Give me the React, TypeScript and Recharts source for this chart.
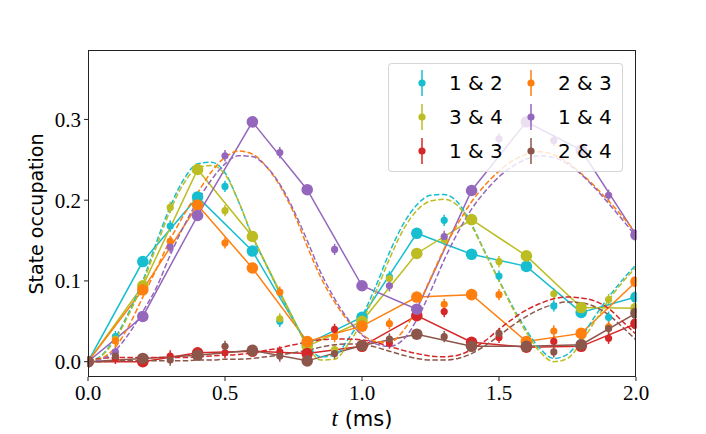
import React from "react";
import { ComposedChart, Line, Scatter, XAxis, YAxis, ErrorBar } from "recharts";

// theory curves, sampled every 0.05 ms
const T_FINE = [
  0, 0.05, 0.1, 0.15, 0.2, 0.25, 0.3, 0.35, 0.4, 0.45, 0.5, 0.55, 0.6, 0.65, 0.7, 0.75, 0.8, 0.85, 0.9, 0.95, 1.0,
  1.05, 1.1, 1.15, 1.2, 1.25, 1.3, 1.35, 1.4, 1.45, 1.5, 1.55, 1.6, 1.65, 1.7, 1.75, 1.8, 1.85, 1.9, 1.95, 2.0,
];
const THEORY_12 = [
  0, 0.008, 0.03, 0.062, 0.1, 0.148, 0.192, 0.226, 0.245, 0.247, 0.234, 0.198, 0.155, 0.12, 0.085, 0.052, 0.022, 0.006,
  0.008, 0.028, 0.056, 0.093, 0.135, 0.17, 0.194, 0.206, 0.207, 0.197, 0.17, 0.135, 0.101, 0.068, 0.039, 0.016, 0.004,
  0.009, 0.03, 0.056, 0.08, 0.101, 0.12,
];
const THEORY_34 = [
  0, 0.007, 0.028, 0.059, 0.097, 0.143, 0.187, 0.221, 0.24, 0.243, 0.232, 0.198, 0.156, 0.12, 0.085, 0.051, 0.02, 0.002,
  0.003, 0.022, 0.05, 0.086, 0.127, 0.163, 0.187, 0.199, 0.201, 0.193, 0.168, 0.134, 0.1, 0.066, 0.036, 0.012, 0.0,
  0.004, 0.024, 0.05, 0.076, 0.098, 0.117,
];
const THEORY_13 = [
  0.002, 0.004, 0.005, 0.005, 0.005, 0.005, 0.005, 0.005, 0.006, 0.007, 0.008, 0.009, 0.011, 0.014, 0.017, 0.021, 0.024,
  0.027, 0.028, 0.028, 0.027, 0.024, 0.019, 0.014, 0.01, 0.007, 0.006, 0.008, 0.015, 0.026, 0.04, 0.053, 0.064, 0.072,
  0.078, 0.08, 0.079, 0.075, 0.066, 0.05, 0.034,
];
const THEORY_23 = [
  0, 0.004, 0.018, 0.045, 0.08, 0.115, 0.151, 0.182, 0.209, 0.235, 0.253, 0.261, 0.257, 0.242, 0.218, 0.185, 0.143,
  0.104, 0.074, 0.05, 0.034, 0.025, 0.024, 0.038, 0.066, 0.103, 0.14, 0.171, 0.198, 0.219, 0.236, 0.249, 0.257, 0.26,
  0.256, 0.247, 0.233, 0.217, 0.199, 0.18, 0.159,
];
const THEORY_14 = [
  0, 0.003, 0.014, 0.035, 0.062, 0.092, 0.132, 0.168, 0.199, 0.225, 0.245, 0.255, 0.254, 0.242, 0.22, 0.188, 0.15, 0.11,
  0.078, 0.052, 0.033, 0.022, 0.019, 0.027, 0.052, 0.087, 0.126, 0.16, 0.189, 0.211, 0.229, 0.242, 0.251, 0.255, 0.253,
  0.245, 0.232, 0.215, 0.196, 0.176, 0.155,
];
const THEORY_24 = [
  0, 0.0, 0.001, 0.001, 0.001, 0.001, 0.001, 0.001, 0.002, 0.002, 0.003, 0.003, 0.004, 0.006, 0.008, 0.011, 0.014, 0.018,
  0.021, 0.022, 0.021, 0.018, 0.013, 0.008, 0.004, 0.002, 0.002, 0.004, 0.01, 0.02, 0.032, 0.045, 0.056, 0.065, 0.071,
  0.074, 0.073, 0.068, 0.058, 0.043, 0.027,
];

// measurements, main set (every 0.2 ms)
const T_MAIN = [0, 0.2, 0.4, 0.6, 0.8, 1.0, 1.2, 1.4, 1.6, 1.8, 2.0];
const MAIN_12 = [0, 0.124, 0.204, 0.137, 0.022, 0.055, 0.159, 0.133, 0.118, 0.061, 0.08];
const MAIN_34 = [0, 0.094, 0.238, 0.155, 0.019, 0.05, 0.134, 0.176, 0.131, 0.067, 0.066];
const MAIN_13 = [0, 0.0, 0.011, 0.013, 0.01, 0.019, 0.057, 0.024, 0.018, 0.019, 0.047];
const MAIN_23 = [0, 0.089, 0.194, 0.116, 0.025, 0.044, 0.08, 0.083, 0.025, 0.035, 0.099];
const MAIN_14 = [0, 0.056, 0.181, 0.297, 0.213, 0.094, 0.065, 0.212, 0.297, 0.262, 0.157];
const MAIN_24 = [0, 0.004, 0.008, 0.014, 0.001, 0.02, 0.034, 0.019, 0.019, 0.021, 0.06];

// measurements, in-between set
const T_MID = [0.1, 0.3, 0.5, 0.7, 0.9, 1.1, 1.3, 1.5, 1.7, 1.9];
const MID_12 = [0.031, 0.168, 0.217, 0.05, 0.013, 0.105, 0.175, 0.106, 0.069, 0.055];
const MID_34 = [0.028, 0.191, 0.187, 0.053, 0.015, 0.103, 0.151, 0.124, 0.084, 0.077];
const MID_13 = [0.004, 0.007, 0.011, 0.012, 0.04, 0.023, 0.062, 0.03, 0.025, 0.029];
const MID_23 = [0.026, 0.149, 0.147, 0.086, 0.031, 0.047, 0.071, 0.083, 0.038, 0.043];
const MID_14 = [0.012, 0.142, 0.255, 0.259, 0.139, 0.094, 0.155, 0.276, 0.274, 0.206];
const MID_24 = [0.007, 0.002, 0.019, 0.007, 0.01, 0.028, 0.031, 0.035, 0.012, 0.041];

const ERR_MAIN = 0.006;
const ERR_MID = 0.007;

const X_TICKS = [0, 0.5, 1.0, 1.5, 2.0];
const Y_TICKS = [0, 0.1, 0.2, 0.3];

const PAIRS = [
  { key: "p12", label: "1 & 2", color: "#17becf", theory: THEORY_12, main: MAIN_12, mid: MID_12 },
  { key: "p34", label: "3 & 4", color: "#bcbd22", theory: THEORY_34, main: MAIN_34, mid: MID_34 },
  { key: "p13", label: "1 & 3", color: "#d62728", theory: THEORY_13, main: MAIN_13, mid: MID_13 },
  { key: "p23", label: "2 & 3", color: "#ff7f0e", theory: THEORY_23, main: MAIN_23, mid: MID_23 },
  { key: "p14", label: "1 & 4", color: "#9467bd", theory: THEORY_14, main: MAIN_14, mid: MID_14 },
  { key: "p24", label: "2 & 4", color: "#8c564b", theory: THEORY_24, main: MAIN_24, mid: MID_24 },
];

const theoryRows = T_FINE.map((t, i) => {
  const row: Record<string, number> = { t };
  PAIRS.forEach((p) => (row[p.key] = p.theory[i]));
  return row;
});

const SERIF = "'Liberation Serif', 'DejaVu Serif', serif";
const SANS = "'DejaVu Sans', 'Noto Sans', sans-serif";

const W = 706;
const H = 434;
const PLOT = { left: 88, top: 50, right: 636, bottom: 377 };

function LegendKey({ color }: { color: string }) {
  return (
    <svg width={12} height={28} style={{ display: "block" }}>
      <line x1={6} y1={1} x2={6} y2={27} stroke={color} strokeWidth={1.5} />
      <circle cx={6} cy={14} r={3.6} fill={color} />
    </svg>
  );
}

// matplotlib fills legend columns first
const LEGEND_COLS = [PAIRS.slice(0, 3), PAIRS.slice(3, 6)];

export default function App() {
  return (
    <div style={{ position: "relative", width: W, height: H, background: "#fff" }}>
      <style>{"body{margin:0}"}</style>
      <ComposedChart
        width={W}
        height={H}
        data={theoryRows}
        margin={{ top: PLOT.top, right: W - PLOT.right, bottom: 0, left: 0 }}
      >
        <XAxis
          dataKey="t"
          type="number"
          domain={[0, 2]}
          ticks={X_TICKS}
          tickFormatter={(v: number) => v.toFixed(1)}
          allowDataOverflow
          height={H - PLOT.bottom}
          axisLine={false}
          tickSize={4}
          tickMargin={4}
          tickLine={{ stroke: "#222", strokeWidth: 1 }}
          tick={{ fontSize: 21, fontFamily: SERIF, fill: "#000" }}
        />
        <YAxis
          type="number"
          domain={[-0.019, 0.386]}
          ticks={Y_TICKS}
          tickFormatter={(v: number) => v.toFixed(1)}
          allowDataOverflow
          width={PLOT.left}
          axisLine={false}
          tickSize={4}
          tickMargin={3}
          tickLine={{ stroke: "#222", strokeWidth: 1 }}
          tick={{ fontSize: 21, fontFamily: SERIF, fill: "#000" }}
        />
        {PAIRS.map((p) => (
          <Scatter
            key={p.key + "-mid"}
            data={T_MID.map((t, i) => ({ t, v: p.mid[i], e: ERR_MID }))}
            dataKey="v"
            fill={p.color}
            isAnimationActive={false}
            shape={(s: any) => <circle cx={s.cx} cy={s.cy} r={3.6} fill={p.color} />}
          >
            <ErrorBar dataKey="e" direction="y" width={0} stroke={p.color} strokeWidth={1.5} />
          </Scatter>
        ))}
        {PAIRS.map((p) => (
          <Line
            key={p.key + "-main"}
            data={T_MAIN.map((t, i) => ({ t, v: p.main[i], e: ERR_MAIN }))}
            dataKey="v"
            type="linear"
            stroke={p.color}
            strokeWidth={1.5}
            dot={{ r: 5.8, fill: p.color, stroke: p.color, strokeWidth: 0 }}
            activeDot={false}
            isAnimationActive={false}
          >
            <ErrorBar dataKey="e" direction="y" width={0} stroke={p.color} strokeWidth={1.5} />
          </Line>
        ))}
        {PAIRS.map((p) => (
          <Line
            key={p.key + "-theory"}
            dataKey={p.key}
            type="monotone"
            stroke={p.color}
            strokeWidth={1.5}
            strokeDasharray="5.5 2.4"
            dot={false}
            activeDot={false}
            isAnimationActive={false}
          />
        ))}
      </ComposedChart>

      {/* axes frame */}
      <div
        style={{
          position: "absolute",
          left: PLOT.left,
          top: PLOT.top,
          width: PLOT.right - PLOT.left,
          height: PLOT.bottom - PLOT.top,
          border: "1px solid #222",
          boxSizing: "border-box",
          pointerEvents: "none",
        }}
      />

      {/* legend */}
      <div
        style={{
          position: "absolute",
          left: 388,
          top: 63,
          width: 235,
          height: 109,
          boxSizing: "border-box",
          background: "rgba(255,255,255,0.8)",
          border: "1px solid rgba(204,204,204,0.8)",
          borderRadius: 4,
        }}
      >
        {LEGEND_COLS.map((col, ci) =>
          col.map((p, ri) => (
            <div
              key={p.key}
              style={{
                position: "absolute",
                left: ci === 0 ? 27 : 136,
                top: 5 + ri * 34,
                height: 28,
                display: "flex",
                alignItems: "center",
                fontFamily: SANS,
                fontSize: 20,
                color: "#000",
                whiteSpace: "nowrap",
              }}
            >
              <LegendKey color={p.color} />
              <span style={{ marginLeft: 21 }}>{p.label}</span>
            </div>
          ))
        )}
      </div>

      {/* axis titles */}
      <div
        style={{
          position: "absolute",
          left: 36,
          top: 214,
          transform: "translate(-50%, -50%) rotate(-90deg)",
          fontFamily: SANS,
          fontSize: 19,
          whiteSpace: "nowrap",
          color: "#000",
        }}
      >
        State occupation
      </div>
      <div
        style={{
          position: "absolute",
          left: 362,
          top: 419,
          transform: "translate(-50%, -50%)",
          whiteSpace: "nowrap",
          color: "#000",
        }}
      >
        <span style={{ fontFamily: SERIF, fontStyle: "italic", fontSize: 23 }}>t</span>
        <span style={{ fontFamily: SANS, fontSize: 21 }}> (ms)</span>
      </div>
    </div>
  );
}
